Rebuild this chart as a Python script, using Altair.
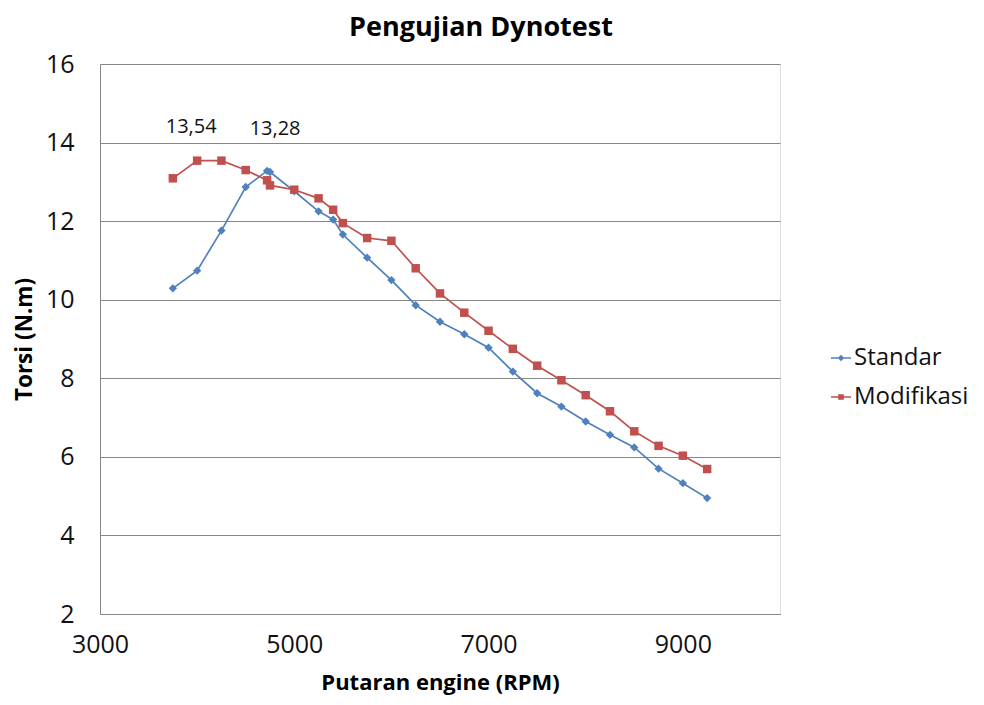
import altair as alt
import pandas as pd

# ---- data ----
rpm = [3750, 4000, 4250, 4500, 4720, 4750, 5000, 5250, 5400, 5500,
       5750, 6000, 6250, 6500, 6750, 7000, 7250, 7500, 7750, 8000,
       8250, 8500, 8750, 9000, 9250]
standar = [10.29, 10.74, 11.76, 12.87, 13.28, 13.25, 12.76, 12.25, 12.04, 11.66,
           11.07, 10.50, 9.86, 9.44, 9.12, 8.78, 8.17, 7.62, 7.28, 6.90,
           6.56, 6.24, 5.70, 5.33, 4.95]
modifikasi = [13.09, 13.54, 13.54, 13.30, 13.04, 12.91, 12.80, 12.58, 12.29, 11.95,
              11.57, 11.50, 10.80, 10.16, 9.67, 9.21, 8.75, 8.32, 7.95, 7.57,
              7.16, 6.65, 6.28, 6.03, 5.69]
series_names = ["Standar", "Modifikasi"]
series_colors = ["#4F81BD", "#C0504D"]
x_ticks = [3000, 5000, 7000, 9000]
y_ticks = [2, 4, 6, 8, 10, 12, 14, 16]
peak_labels = [("Modifikasi", 4000, 13.54), ("Standar", 4720, 13.28)]

rows = []
for r, s, m in zip(rpm, standar, modifikasi):
    rows.append({"series": "Standar", "rpm": r, "torsi": s})
    rows.append({"series": "Modifikasi", "rpm": r, "torsi": m})
df = pd.DataFrame(rows)

lab_df = pd.DataFrame([
    {"series": s, "rpm": r, "torsi": v, "txt": f"{v:.2f}".replace(".", ",")}
    for s, r, v in peak_labels
])

FONT = "Open Sans"
GRID = "#868686"

x_enc = alt.X(
    "rpm:Q",
    scale=alt.Scale(domain=[3000, 10000], nice=False, zero=False),
    axis=alt.Axis(
        values=x_ticks, grid=False, ticks=False, labelPadding=18, labelFlush=False,
        labelFontSize=25, labelFont=FONT, labelColor="#111111",
        domainColor=GRID, domainWidth=1,
        title="Putaran engine (RPM)", titleFont=FONT, titleFontSize=22,
        titleFontWeight="bold", titleColor="#000000",
        titleX=340, titleY=75, titleBaseline="alphabetic", titleAlign="center",
        format="d",
    ),
)
y_enc = alt.Y(
    "torsi:Q",
    scale=alt.Scale(domain=[2, 16], nice=False, zero=False),
    axis=alt.Axis(
        values=y_ticks, grid=True, gridColor=GRID, gridWidth=1, ticks=False,
        labelPadding=26, labelFontSize=25, labelFont=FONT, labelColor="#111111",
        domainColor=GRID, domainWidth=1,
        title="Torsi (N.m)", titleFont=FONT, titleFontSize=22.5,
        titleFontWeight="bold", titleColor="#000000",
        titleX=-76, titleY=275, titleAngle=270, titleAlign="center",
        titleBaseline="middle",
    ),
)
legend = alt.Legend(
    title=None, orient="none", legendX=729, legendY=282, padding=0,
    labelFont=FONT, labelFontSize=24, labelColor="#111111", labelOffset=1,
    symbolSize=400, rowPadding=15, symbolStrokeWidth=0,
)
color_enc = alt.Color(
    "series:N",
    scale=alt.Scale(domain=series_names, range=series_colors),
    legend=legend,
)

base = alt.Chart(df)

lines = base.mark_line(strokeWidth=1.7).encode(x=x_enc, y=y_enc, color=color_enc)
pts_s = base.transform_filter(alt.datum.series == "Standar").mark_point(
    shape="diamond", filled=True, size=70, opacity=1
).encode(x=x_enc, y=y_enc, color=color_enc)
pts_m = base.transform_filter(alt.datum.series == "Modifikasi").mark_point(
    shape="square", filled=True, size=72, opacity=1
).encode(x=x_enc, y=y_enc, color=color_enc)

path_s = "M-1,-0.08H1V0.08H-1Z M0,-0.32L0.32,0L0,0.32L-0.32,0Z"
path_m = "M-1,-0.08H1V0.08H-1Z M-0.28,-0.28H0.28V0.28H-0.28Z"
legend_layer = base.transform_filter("false").mark_point(filled=True, opacity=1).encode(
    x=x_enc, y=y_enc, color=color_enc,
    shape=alt.Shape("series:N",
                    scale=alt.Scale(domain=series_names, range=[path_s, path_m]),
                    legend=legend),
)

lab_m = alt.Chart(lab_df).transform_filter(alt.datum.series == "Modifikasi").mark_text(
    font=FONT, fontSize=20, color="#111111", dx=-6, dy=-34
).encode(x=x_enc, y=y_enc, text="txt:N")
lab_s = alt.Chart(lab_df).transform_filter(alt.datum.series == "Standar").mark_text(
    font=FONT, fontSize=20, color="#111111", dx=8, dy=-42
).encode(x=x_enc, y=y_enc, text="txt:N")

chart = alt.layer(lines, pts_s, pts_m, legend_layer, lab_m, lab_s).properties(
    width=680, height=550,
    autosize=alt.AutoSizeParams(type="none"),
    padding={"left": 92, "top": 56, "right": 196, "bottom": 82},
    title=alt.TitleParams(
        "Pengujian Dynotest", font=FONT, fontSize=27, fontWeight="bold",
        color="#000000", anchor="middle", dx=41, offset=10,
    ),
).configure_view(stroke=None).configure(background="white")

chart.save("out.html", embed_options={"renderer": "svg", "actions": False})
